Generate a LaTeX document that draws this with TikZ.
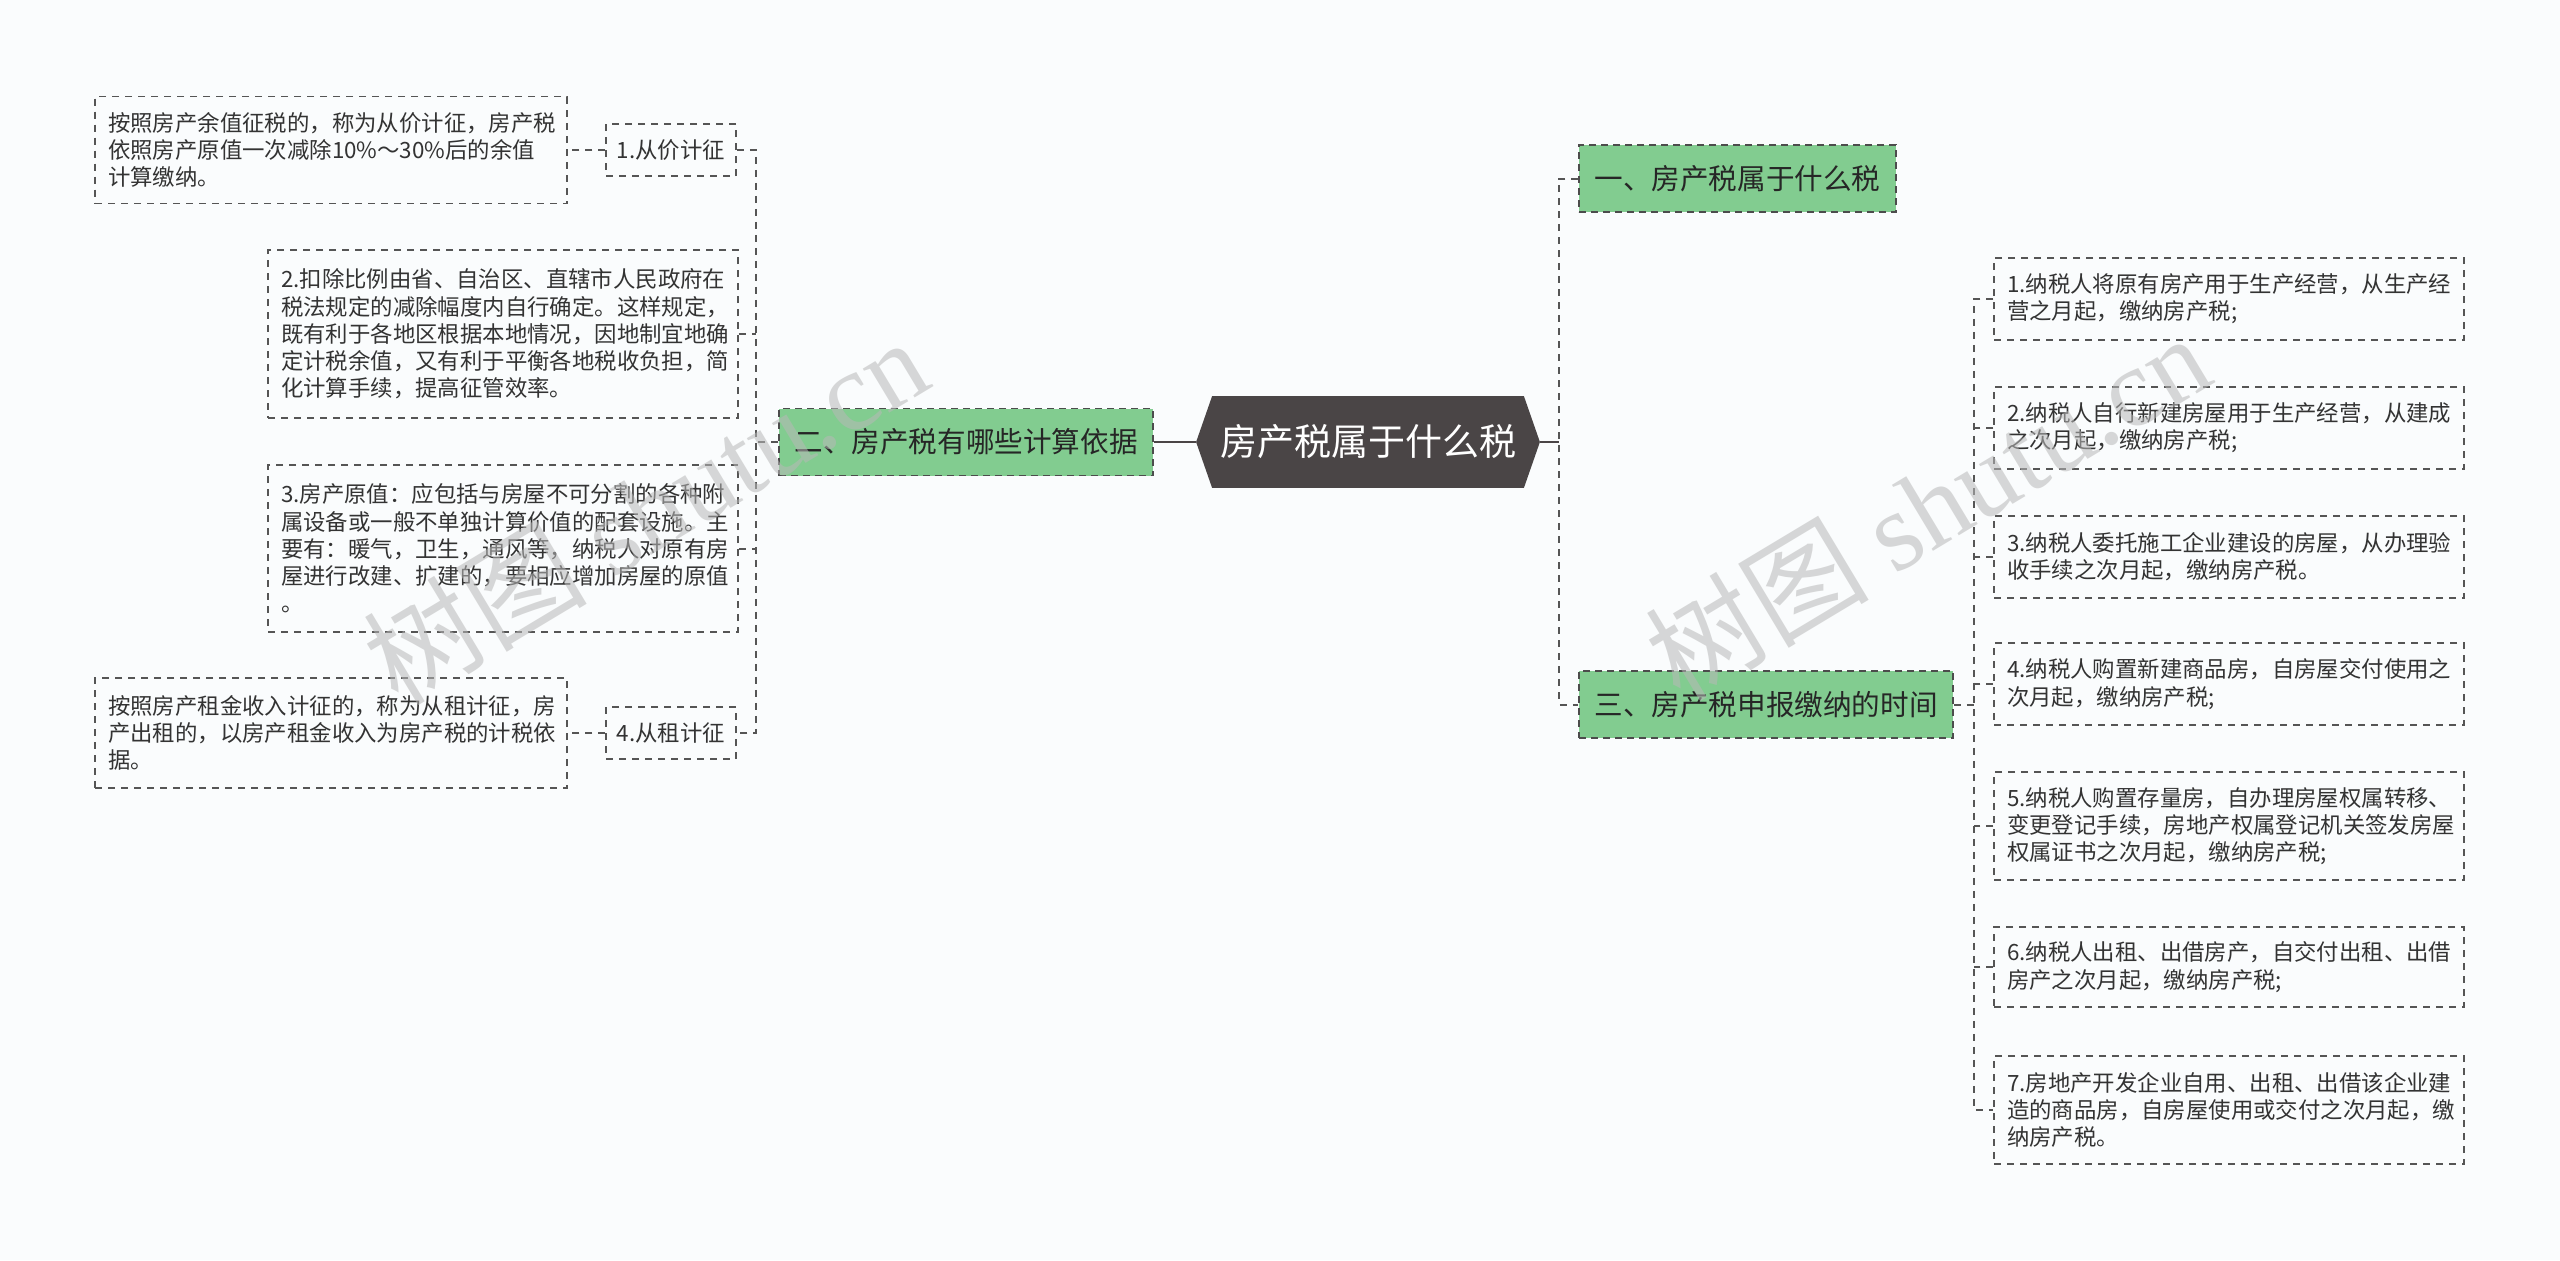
\documentclass[tikz,border=0pt]{standalone}
\usepackage{fontspec}
\setmainfont{Noto Sans CJK SC}
\newfontfamily\wmserif{Liberation Serif}
\usetikzlibrary{calc}
\definecolor{bgc}{HTML}{FAFCFD}
\definecolor{lineg}{HTML}{555555}
\definecolor{greenf}{HTML}{82CC90}
\definecolor{rootf}{HTML}{4A4546}
\definecolor{txt}{HTML}{333333}
\definecolor{wmc}{HTML}{B8B8B8}
\pgfdeclarelayer{background}
\pgfsetlayers{background,main}
\begin{document}
\begin{tikzpicture}[x=0.5pt,y=-0.5pt,
  conn/.style={draw=lineg, line width=1pt, dash pattern=on 3.5pt off 3pt},
  solidconn/.style={draw=rootf, line width=1.2pt},
  leafbox/.style={draw=lineg, line width=0.75pt, dash pattern=on 3.5pt off 3pt,
    font=\fontsize{11.2pt}{13.65pt}\selectfont, text=txt, align=left,
    inner xsep=6.5pt, inner ysep=0pt, anchor=center},
  smallbox/.style={draw=lineg, line width=0.75pt, dash pattern=on 3.5pt off 3pt,
    font=\fontsize{11.2pt}{13.65pt}\selectfont, text=txt, inner sep=0pt,
    minimum width=65pt, minimum height=26pt},
  branchbox/.style={fill=greenf, draw=black!70, line width=0.75pt, dash pattern=on 3.5pt off 2.5pt,
    font=\fontsize{14.3pt}{17pt}\selectfont, text=black!85, inner sep=0pt,
    minimum height=33.5pt},
  wmark/.style={text=wmc, opacity=0.55, rotate=31, font=\fontsize{56pt}{60pt}\selectfont},
]
\useasboundingbox (0,0) rectangle (2560,1260);

% root
\node[text=white, font=\fontsize{18.5pt}{22pt}\selectfont, minimum width=155.5pt,
  minimum height=45.5pt, inner sep=0pt] (root) at (1368,442) {房产税属于什么税};

% branches
\node[branchbox, minimum width=187pt] (b2) at (966,442) {二、房产税有哪些计算依据};
\node[branchbox, minimum width=158.5pt] (b1) at (1737.5,178.5) {一、房产税属于什么税};
\node[branchbox, minimum width=187pt] (b3) at (1766,704.5) {三、房产税申报缴纳的时间};

% left side
\node[smallbox] (l1) at (671,150) {1.从价计征};
\node[smallbox] (l4) at (671,733) {4.从租计征};
\node[leafbox, text width=223pt, minimum height=53.5pt] (t1) at (331,150)
  {按照房产余值征税的，称为从价计征，房产税\\依照房产原值一次减除10\%～30\%后的余值\\计算缴纳。};
\node[leafbox, text width=223pt, minimum height=55pt] (t4) at (331,733)
  {按照房产租金收入计征的，称为从租计征，房\\产出租的，以房产租金收入为房产税的计税依\\据。};
\node[leafbox, text width=222pt, minimum height=84pt] (l2) at (503,334)
  {2.扣除比例由省、自治区、直辖市人民政府在\\税法规定的减除幅度内自行确定。这样规定，\\既有利于各地区根据本地情况，因地制宜地确\\定计税余值，又有利于平衡各地税收负担，简\\化计算手续，提高征管效率。};
\node[leafbox, text width=222pt, minimum height=83.5pt] (l3) at (503,548.5)
  {3.房产原值：应包括与房屋不可分割的各种附\\属设备或一般不单独计算价值的配套设施。主\\要有：暖气，卫生，通风等，纳税人对原有房\\屋进行改建、扩建的，要相应增加房屋的原值\\。};

% right leaves
\node[leafbox, text width=222pt, minimum height=41pt] (r1) at (2229,299)
  {1.纳税人将原有房产用于生产经营，从生产经\\营之月起，缴纳房产税;};
\node[leafbox, text width=222pt, minimum height=41pt] (r2) at (2229,428)
  {2.纳税人自行新建房屋用于生产经营，从建成\\之次月起，缴纳房产税;};
\node[leafbox, text width=222pt, minimum height=41pt] (r3) at (2229,557)
  {3.纳税人委托施工企业建设的房屋，从办理验\\收手续之次月起，缴纳房产税。};
\node[leafbox, text width=222pt, minimum height=41pt] (r4) at (2229,684)
  {4.纳税人购置新建商品房，自房屋交付使用之\\次月起，缴纳房产税;};
\node[leafbox, text width=222pt, minimum height=54pt] (r5) at (2229,826)
  {5.纳税人购置存量房，自办理房屋权属转移、\\变更登记手续，房地产权属登记机关签发房屋\\权属证书之次月起，缴纳房产税;};
\node[leafbox, text width=222pt, minimum height=40pt] (r6) at (2229,967)
  {6.纳税人出租、出借房产，自交付出租、出借\\房产之次月起，缴纳房产税;};
\node[leafbox, text width=222pt, minimum height=54pt] (r7) at (2229,1110)
  {7.房地产开发企业自用、出租、出借该企业建\\造的商品房，自房屋使用或交付之次月起，缴\\纳房产税。};

% background and root hexagon
\begin{pgfonlayer}{background}
\fill[bgc] (0,0) rectangle (2560,1260);
\fill[rootf] (root.north west) -- (root.north east) -- ($(root.east)+(16,0)$)
  -- (root.south east) -- (root.south west) -- ($(root.west)+(-16,0)$) -- cycle;
\end{pgfonlayer}

% junction points
\coordinate (lj) at (756,442);
\coordinate (rj) at (1559,442);
\coordinate (rj2) at (1974,704.5);

% connectors: root - left branch
\draw[solidconn] ($(root.west)+(-16,0)$) -- (b2.east);
\draw[conn] (b2.west) -- (lj);
\draw[conn] (l1.east) -| (lj) |- (l4.east);
\draw[conn] (l2.east) -- (l2.east -| lj);
\draw[conn] (l3.east) -- (l3.east -| lj);
\draw[conn] (l1.west) -- (t1.east);
\draw[conn] (l4.west) -- (t4.east);

% connectors: root - right branches
\draw[solidconn] ($(root.east)+(16,0)$) -- (rj);
\draw[conn] (b1.west) -| (rj) |- (b3.west);
\draw[conn] (b3.east) -- (rj2);
\draw[conn] (r1.west) -| (rj2) |- (r7.west);
\draw[conn] (r2.west) -- (r2.west -| rj2);
\draw[conn] (r3.west) -- (r3.west -| rj2);
\draw[conn] (r4.west) -- (r4.west -| rj2);
\draw[conn] (r5.west) -- (r5.west -| rj2);
\draw[conn] (r6.west) -- (r6.west -| rj2);

% watermarks
\node[wmark] (wm1) at (645,510) {树图 {\wmserif shutu.cn}};
\node[wmark] (wm2) at (1927,506) {树图 {\wmserif shutu.cn}};
\end{tikzpicture}
\end{document}
